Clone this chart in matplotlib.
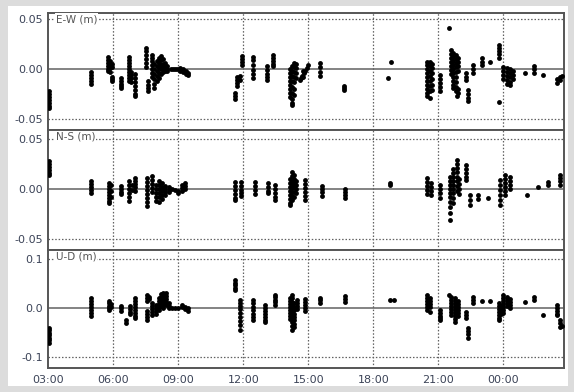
import matplotlib
matplotlib.use("Agg")
import matplotlib.pyplot as plt
from matplotlib.patches import Rectangle

# hours after 03:00 for each cluster of epochs, and the residuals in that cluster (m)
ew_hours = [0.05, 1.96, 2.76, 2.85, 2.95, 3.35, 3.72, 3.82, 3.98, 4.53, 4.58, 4.78,
            4.9, 5.0, 5.1, 5.2, 5.3, 5.4, 5.5, 5.65, 5.75, 5.85, 5.95,
            6.1, 6.2, 6.35, 6.45, 8.62, 8.72, 8.85, 8.95, 9.43, 10.08, 10.39,
            11.15, 11.25, 11.35, 11.45, 11.6, 11.65, 11.7, 11.75, 11.78, 11.85, 11.92, 12.0,
            12.54, 13.65, 15.7, 15.8, 17.5, 17.6, 17.7, 18.1, 18.47,
            18.6, 18.7, 18.8, 18.9, 18.85, 19.28, 19.37, 19.59, 20.02, 20.39, 20.8,
            21.0, 21.15, 21.3, 21.45, 22.0, 22.42, 22.85, 23.5, 23.6, 23.7]
ew_vals = [[-0.022, -0.025, -0.028, -0.031, -0.034, -0.037, -0.039],
           [-0.003, -0.006, -0.009, -0.012, -0.015],
           [0.012, 0.009, 0.006, 0.003, 0.0, -0.002],
           [0.008, 0.004, 0.001, -0.003],
           [-0.008, -0.010, -0.012, 0.002, 0.005],
           [-0.009, -0.012, -0.015, -0.017, -0.019],
           [0.012, 0.009, 0.006, 0.003, 0.0, -0.003, -0.006, -0.009, -0.012],
           [-0.003, -0.006, -0.009, -0.013],
           [-0.005, -0.009, -0.013, -0.017, -0.021, -0.025, -0.027],
           [0.021, 0.018, 0.014, 0.010, 0.006, 0.002],
           [-0.012, -0.016, -0.019, -0.022],
           [0.014, 0.011, 0.008, 0.004, 0.0, -0.004, -0.008],
           [0.005, 0.0, -0.005, -0.010, -0.015, -0.019],
           [0.008, 0.003, -0.002, -0.007, -0.012],
           [0.011, 0.006, 0.001, -0.004, -0.009],
           [0.013, 0.009, 0.004, 0.0, -0.005],
           [0.010, 0.005, 0.001, -0.003],
           [0.006, 0.002, -0.002],
           [0.003, 0.0, -0.002],
           [0.0], [0.0], [0.0], [0.0],
           [0.001, -0.002], [0.0, -0.003], [-0.002, -0.005], [-0.004, -0.006],
           [-0.024, -0.027, -0.030],
           [-0.008, -0.011, -0.014, -0.017],
           [-0.007, -0.011],
           [0.013, 0.010, 0.007, 0.004],
           [0.012, 0.009, 0.004, -0.001, -0.005, -0.009],
           [0.003, -0.001, -0.005, -0.008, -0.011],
           [0.014, 0.011, 0.008, 0.005, 0.003],
           [0.0, -0.004, -0.008, -0.012, -0.016, -0.020, -0.024, -0.028],
           [0.003, -0.002, -0.007, -0.012, -0.018, -0.024, -0.030, -0.034, -0.036],
           [0.006, 0.002, -0.003, -0.008, -0.013, -0.020, -0.026],
           [0.005, 0.001, -0.004, -0.009],
           [-0.011], [-0.009], [-0.007], [-0.002, -0.008], [-0.004], [-0.002], [0.001], [0.004],
           [0.006, 0.002, -0.003, -0.007],
           [-0.017, -0.019, -0.021],
           [-0.009], [0.007],
           [0.007, 0.004, 0.0, -0.004, -0.008, -0.012, -0.016, -0.020, -0.024, -0.027],
           [0.007, 0.003, -0.002, -0.007, -0.012, -0.017, -0.022, -0.029],
           [0.005, 0.001, -0.004, -0.010, -0.016, -0.021],
           [-0.006, -0.010, -0.014, -0.018, -0.022],
           [0.041],
           [0.019, 0.015, 0.011, 0.007, 0.003, -0.001, -0.005],
           [0.016, 0.012, 0.008, 0.004, 0.0, -0.004, -0.008, -0.012, -0.016, -0.019],
           [0.014, 0.010, 0.006, 0.002, -0.003, -0.008, -0.013, -0.018, -0.022],
           [0.011, 0.007, 0.003, -0.002, -0.020, -0.024],
           [-0.027],
           [-0.004, -0.008, -0.011],
           [-0.021, -0.025, -0.029, -0.032],
           [0.004, 0.0, -0.004],
           [0.011, 0.007, 0.004],
           [0.007],
           [0.024, 0.021, 0.018, 0.015, 0.011, -0.033],
           [0.002, -0.002, -0.006, -0.010],
           [0.001, -0.003, -0.007, -0.011, -0.015],
           [0.0, -0.004, -0.008, -0.013, -0.016],
           [-0.002, -0.006, -0.010],
           [-0.004],
           [0.003, 0.0, -0.004],
           [-0.006],
           [-0.010, -0.014], [-0.008, -0.011], [-0.007]]

ns_hours = [0.05, 1.96, 2.8, 2.9, 3.35, 3.72, 3.85, 3.98, 4.55,
            4.8, 4.95, 5.1, 5.25, 5.4, 5.55, 5.7, 5.85, 6.0, 6.15, 6.3,
            8.62, 8.89, 9.54, 10.14, 10.46, 11.15, 11.25, 11.35, 11.45, 11.85,
            12.63, 13.69, 15.77, 17.5, 17.65, 18.08, 18.55, 18.7, 18.85, 18.95,
            19.28, 19.46, 19.83, 20.29, 20.85, 21.1, 21.3, 22.1, 22.6, 23.06, 23.6]
ns_vals = [[0.028, 0.025, 0.022, 0.019, 0.016, 0.014],
           [0.008, 0.005, 0.002, -0.001, -0.004],
           [0.006, 0.003, 0.0, -0.003, -0.006, -0.009, -0.012, -0.014],
           [0.004, -0.002, -0.008],
           [0.003, 0.0, -0.003, -0.005],
           [0.008, 0.004, 0.0, -0.004, -0.008, -0.012],
           [0.004, -0.001],
           [0.011, 0.008, 0.005, 0.002, -0.002],
           [0.011, 0.007, 0.003, -0.001, -0.005, -0.009, -0.013, -0.017],
           [0.013, 0.009, 0.005, 0.001, -0.003],
           [0.004, 0.0, -0.004, -0.008, -0.012],
           [0.008, 0.004, 0.0, -0.004, -0.008, -0.013],
           [0.006, 0.002, -0.002, -0.006, -0.010],
           [0.003, 0.0, -0.003, -0.006],
           [0.002, -0.001, -0.003],
           [0.0], [-0.001], [-0.002, -0.004],
           [0.004, 0.001, -0.002], [0.006, 0.003, 0.0],
           [0.007, 0.003, -0.001, -0.005, -0.009, -0.011],
           [0.007, 0.003, -0.001, -0.004, -0.007],
           [0.007, 0.003, -0.001, -0.005],
           [0.006, 0.002, -0.002, -0.004],
           [0.004, 0.0, -0.004, -0.008, -0.011],
           [0.010, 0.006, 0.002, -0.002, -0.006, -0.010, -0.014, -0.016],
           [0.017, 0.013, 0.009, 0.005, 0.001, -0.003, -0.007, -0.011],
           [0.014, 0.010, 0.006, 0.002, -0.003, -0.008],
           [0.008, 0.004, 0.0, -0.004],
           [0.009, 0.005, 0.001, -0.003, -0.007, -0.011],
           [0.003, 0.0, -0.003, -0.007],
           [0.0, -0.003, -0.006, -0.009],
           [0.006, 0.004],
           [0.011, 0.007, 0.003, -0.001, -0.005],
           [0.006, 0.002, -0.002, -0.006],
           [0.004, 0.0, -0.004, -0.009],
           [0.012, 0.008, 0.004, 0.0, -0.004, -0.008, -0.013, -0.018, -0.024, -0.031],
           [0.020, 0.016, 0.012, 0.008, 0.004, 0.0, -0.004, -0.009, -0.014],
           [0.029, 0.025, 0.021, 0.017, 0.012, 0.008, 0.003, -0.002],
           [0.010, 0.005, 0.0, -0.005],
           [0.024, 0.020, 0.016, 0.012, 0.009],
           [-0.006, -0.011, -0.016],
           [-0.006, -0.010],
           [-0.009],
           [0.009, 0.004, -0.001, -0.006, -0.011, -0.016],
           [0.014, 0.010, 0.006, 0.002, -0.002, -0.006],
           [0.012, 0.008, 0.004, 0.0],
           [-0.006],
           [0.002],
           [0.007, 0.004],
           [0.014, 0.011, 0.008, 0.004]]

ud_hours = [0.05, 1.96, 2.8, 2.9, 3.35, 3.6, 3.75, 3.98, 4.55, 4.65,
            4.8, 4.95, 5.1, 5.2, 5.3, 5.45, 5.55, 5.7, 5.85, 6.0, 6.15, 6.3, 6.45,
            8.62, 8.85, 9.45, 10.0, 10.46, 11.15, 11.25, 11.35, 11.5, 11.85,
            12.54, 13.69, 15.77, 15.95, 17.5, 17.62, 18.08, 18.47, 18.6, 18.75, 18.9,
            19.28, 19.37, 19.59, 20.02, 20.39, 20.8, 20.9, 21.0, 21.15, 21.3,
            22.0, 22.42, 22.85, 23.5, 23.62, 23.7]
ud_vals = [[-0.040, -0.045, -0.050, -0.055, -0.060, -0.065, -0.071],
           [0.021, 0.015, 0.009, 0.003, -0.003, -0.009, -0.016],
           [0.015, 0.010, 0.005, 0.0, -0.003],
           [0.008, 0.002],
           [0.004, 0.0, -0.006],
           [-0.024, -0.030],
           [0.004, -0.002, -0.008, -0.012],
           [0.020, 0.014, 0.008, 0.002, -0.004, -0.010, -0.016, -0.020],
           [0.027, 0.021, 0.015, -0.005, -0.012, -0.018, -0.024],
           [0.022, 0.018],
           [0.010, 0.004, -0.002, -0.008, -0.014],
           [0.006, 0.0, -0.006, -0.012],
           [0.020, 0.014, 0.008, 0.002, -0.004],
           [0.028, 0.022, 0.016, 0.010, 0.004],
           [0.030, 0.024, 0.018, 0.012, 0.006, 0.0],
           [0.030, 0.024, 0.018, 0.012, 0.006],
           [0.010, 0.004, 0.0],
           [0.0], [0.0], [0.0],
           [0.006, 0.002], [0.002, -0.002], [0.0, -0.006],
           [0.057, 0.052, 0.047, 0.042, 0.037],
           [0.016, 0.010, 0.004, -0.002, -0.010, -0.018, -0.026, -0.034, -0.044],
           [0.017, 0.010, 0.003, -0.004, -0.011, -0.018, -0.024],
           [0.006, 0.0, -0.006, -0.012, -0.018, -0.024, -0.028],
           [0.027, 0.022, 0.017, 0.012, 0.007],
           [0.020, 0.014, 0.008, 0.002, -0.004, -0.010, -0.016, -0.022],
           [0.027, 0.020, 0.013, 0.006, -0.001, -0.008, -0.015, -0.022, -0.029, -0.036, -0.044],
           [0.010, 0.003, -0.004, -0.011, -0.018, -0.025, -0.032, -0.038],
           [0.016, 0.010, 0.004, -0.002],
           [0.018, 0.012, 0.006, 0.0, -0.006],
           [0.021, 0.016, 0.011],
           [0.025, 0.019, 0.013],
           [0.016], [0.016],
           [0.027, 0.021, 0.015, 0.009, 0.003, -0.003],
           [0.020, 0.014, 0.008, 0.002, -0.007],
           [-0.003, -0.009, -0.015, -0.020, -0.024],
           [0.027],
           [0.023, 0.017, 0.011, 0.005, -0.001, -0.007, -0.013],
           [0.020, 0.014, 0.008, 0.002, -0.004, -0.010, -0.016, -0.022, -0.028],
           [0.014, 0.008, 0.002, -0.004, -0.010, -0.016],
           [-0.007, -0.013, -0.020],
           [-0.040, -0.046, -0.053, -0.060],
           [0.023, 0.017, 0.011],
           [0.015],
           [0.015],
           [0.011, 0.005, -0.001, -0.007, -0.013, -0.019, -0.024],
           [0.004, -0.004, -0.012],
           [0.027, 0.021, 0.015, 0.009, 0.003, -0.003, -0.010],
           [0.022, 0.016, 0.010, 0.004],
           [0.018, 0.012, 0.006, 0.0],
           [0.013],
           [0.023, 0.017],
           [-0.014],
           [0.007, 0.001, -0.005, -0.011, -0.014],
           [-0.024, -0.030, -0.038],
           [-0.036]]

x_ticks = [0, 3, 6, 9, 12, 15, 18, 21]
x_labels = ["03:00", "06:00", "09:00", "12:00", "15:00", "18:00", "21:00", "00:00"]

panels = [
    ("E-W (m)", ew_hours, ew_vals, [-0.05, 0.0, 0.05], ["-0.05", "0.00", "0.05"], (-0.0607, 0.0566)),
    ("N-S (m)", ns_hours, ns_vals, [-0.05, 0.0, 0.05], ["-0.05", "0.00", "0.05"], (-0.0607, 0.0593)),
    ("U-D (m)", ud_hours, ud_vals, [-0.1, 0.0, 0.1], ["-0.1", "0.0", "0.1"], (-0.1224, 0.1184)),
]


def expand(hours, vals):
    t, v = [], []
    for h, vs in zip(hours, vals):
        t += [h] * len(vs)
        v += vs
    return t, v


fig = plt.figure(figsize=(5.74, 3.92), dpi=100)
fig.patch.set_facecolor("#dcdcdc")
fig.patches.append(Rectangle((8 / 574, 6 / 392), 560 / 574, 380 / 392,
                             transform=fig.transFigure, facecolor="white",
                             edgecolor="none", zorder=-10))

label_col = "#3c4458"
boxes = [(12.7, 130.0), (130.0, 250.0), (250.0, 368.3)]
axes = []
for (title, hours, vals, yt, ytl, ylim), (top, bot) in zip(panels, boxes):
    ax = fig.add_axes([48.3 / 574, 1 - bot / 392, (564 - 48.3) / 574, (bot - top) / 392])
    ax.set_facecolor("white")
    t, v = expand(hours, vals)
    ax.axhline(0, color="#7a7a7a", lw=1.3, zorder=1)
    ax.plot(t, v, "o", ms=3.5, mew=0, color="black", zorder=3)
    ax.set_xlim(0, 23.8)
    ax.set_ylim(*ylim)
    ax.set_yticks(yt)
    ax.set_yticklabels(ytl)
    ax.set_xticks(x_ticks)
    for y in (yt[0], yt[2]):
        ax.axhline(y, color="#606060", lw=0.9, ls=(0, (1.2, 1.5)), zorder=1)
    for x in x_ticks[1:]:
        ax.axvline(x, color="#606060", lw=0.9, ls=(0, (1.2, 1.5)), zorder=1)
    ax.tick_params(length=0, labelsize=8, labelcolor=label_col, pad=4)
    for s in ax.spines.values():
        s.set_color("#555555")
        s.set_linewidth(1.4)
    ax.text(0.014, 0.945, title, transform=ax.transAxes, fontsize=7.5,
            color="#555555", va="center", ha="left", zorder=4,
            bbox=dict(facecolor="white", edgecolor="none", pad=0.5))
    axes.append(ax)

for ax in axes[:-1]:
    ax.set_xticklabels([])
axes[-1].set_xticklabels(x_labels)
axes[-1].tick_params(axis="x", pad=5)

fig.savefig("out.png", dpi=100, facecolor=fig.get_facecolor())
